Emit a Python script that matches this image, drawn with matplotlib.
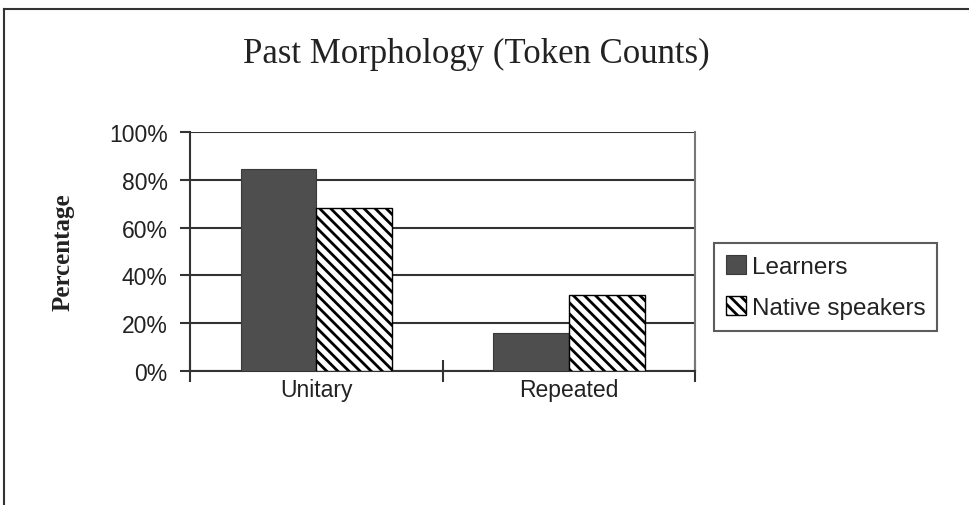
import matplotlib
matplotlib.use("Agg")
import matplotlib.pyplot as plt
import numpy as np

# data
categories = ["Unitary", "Repeated"]
learners = [84.5, 16.0]
native_speakers = [68.0, 32.0]
y_ticks = [0, 20, 40, 60, 80, 100]

plt.rcParams['hatch.linewidth'] = 2.0
plt.rcParams['hatch.color'] = 'black'

fig = plt.figure(figsize=(9.69, 5.06), dpi=100, facecolor='white')
ax = fig.add_axes([190 / 969, 134 / 506, 505 / 969, 239 / 506])

x = np.arange(len(categories))
w = 0.3

ax.bar(x - w / 2, learners, w, color='#4e4e4e', edgecolor='#3a3a3a',
       linewidth=0.8, label='Learners', zorder=3)
ax.bar(x + w / 2, native_speakers, w, color='white', edgecolor='black',
       hatch='\\\\\\', linewidth=1.0, label='Native speakers', zorder=3)

ax.set_xlim(-0.5, 1.5)
ax.set_ylim(0, 100)

# gridlines
ax.set_yticks(y_ticks)
ax.set_yticklabels([f"{t}%" for t in y_ticks], fontsize=16.5,
                   family='Liberation Sans', color='#222222')
ax.yaxis.grid(True, color='#333333', linewidth=1.5, zorder=0)
ax.set_axisbelow(True)
ax.tick_params(axis='y', direction='out', length=7, width=1.5, pad=9, color='#333333')

# x ticks at the category boundaries, labels in the middle
ax.set_xticks([-0.5, 0.5, 1.5])
ax.set_xticklabels([])
ax.set_xticks(x, minor=True)
ax.set_xticklabels(categories, minor=True, fontsize=16.5,
                   family='Liberation Sans', color='#222222')
ax.tick_params(axis='x', which='major', direction='inout', length=16, width=1.5, color='#333333')
ax.tick_params(axis='x', which='minor', length=0, pad=5)

for side in ['left', 'bottom']:
    ax.spines[side].set_color('#333333')
    ax.spines[side].set_linewidth(1.5)
ax.spines['top'].set_visible(False)
ax.spines['right'].set_color('#777777')
ax.spines['right'].set_linewidth(1.5)

ax.set_ylabel("Percentage", fontsize=18, fontweight='bold',
              family='Liberation Serif', color='#222222', labelpad=25)

fig.text(476 / 969, 1 - 54 / 506, "Past Morphology (Token Counts)",
         ha='center', va='center', fontsize=25, family='Liberation Serif',
         color='#222222')

leg = fig.legend(loc='upper left', bbox_to_anchor=(714 / 969, 1 - 244 / 506),
                 prop={'family': 'Liberation Sans', 'size': 17.5},
                 frameon=True, fancybox=False, borderaxespad=0,
                 handlelength=0.8, handleheight=0.8, handletextpad=0.25,
                 borderpad=0.5, labelspacing=0.75)
leg.get_frame().set_edgecolor('#333333')
leg.get_frame().set_linewidth(1.5)
for t in leg.get_texts():
    t.set_color('#222222')

# outer chart border (cut off at right and bottom)
fig.add_artist(plt.Line2D([4 / 969, 1], [1 - 10 / 506, 1 - 10 / 506],
                          transform=fig.transFigure, color='#333333', linewidth=1.5))
fig.add_artist(plt.Line2D([4 / 969, 4 / 969], [0, 1 - 10 / 506],
                          transform=fig.transFigure, color='#333333', linewidth=1.5))

fig.savefig("out.png", dpi=100, facecolor='white')
